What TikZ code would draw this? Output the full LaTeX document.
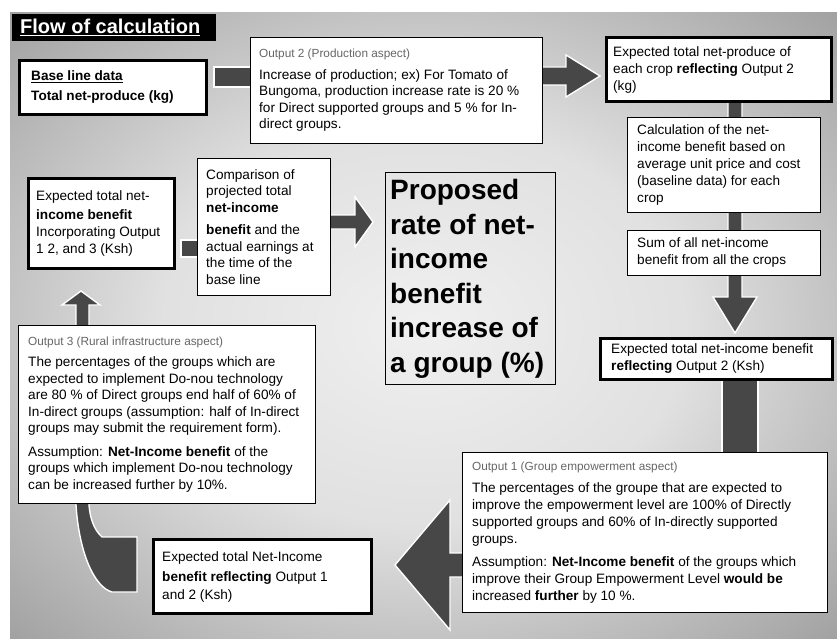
\documentclass[tikz,border=0pt]{standalone}
\usepackage{fontspec}
\setmainfont{Liberation Sans}
\usetikzlibrary{calc}
\pgfdeclarelayer{panel}
\pgfdeclarelayer{arrows}
\pgfsetlayers{panel,arrows,main}
% light centre, darker rim
\pgfdeclareradialshading{panelshade}{\pgfpoint{0bp}{0bp}}{%
  color(0bp)=(black!6); color(16bp)=(black!12); color(38bp)=(black!40); color(72bp)=(black!64)}

\tikzset{
  box/.style={draw=black, fill=white, line width=0.8pt, anchor=north west, inner sep=0pt},
  heavybox/.style={box, line width=3pt},
  boxtext/.style={anchor=west, align=left, inner sep=0pt, font=\fontsize{13.6}{16.5}\selectfont},
  blockarrow/.style={fill=black!72, draw=white, line width=1.4pt, line join=miter},
}
\newcommand\aspectline[1]{{\fontsize{11.8}{14}\selectfont\color{black!60}#1}}

\begin{document}
\begin{tikzpicture}[x=1pt,y=-1pt]
\useasboundingbox (0,0) rectangle (837,639);

\begin{pgfonlayer}{panel}
  \fill[white] (0,0) rectangle (837,639);
  \shade[shading=panelshade] (10,13) rectangle (837,639);
\end{pgfonlayer}

% ---- title
\node[fill=black, anchor=north west, minimum width=204pt, minimum height=27pt, inner sep=0pt] (title) at (12,14) {};
\node[anchor=west, inner sep=0pt, text=white, font=\fontsize{20}{22}\selectfont\bfseries]
  (titletext) at ($(title.west)+(8,0)$) {\underline{Flow of calculation}};

% ---- boxes with their texts
\node[heavybox, minimum width=187pt, minimum height=54pt] (base) at (18,59) {};
\node[boxtext, font=\fontsize{13.6}{20}\selectfont\bfseries] (basetext) at ($(base.west)+(13,0)$)
  {\underline{Base line data}\\Total net-produce (kg)};

\node[box, minimum width=292pt, minimum height=106pt] (out2) at (250,37) {};
\node[boxtext] (out2text) at ($(out2.west)+(9,0)$)
  {\aspectline{Output 2 (Production aspect)}\\[5pt]
   Increase of production; ex) For Tomato of\\
   Bungoma, production increase rate is 20 \%\\
   for Direct supported groups and 5 \% for In-\\
   direct groups.};

\node[heavybox, minimum width=225pt, minimum height=64pt] (prod) at (605,36) {};
\node[boxtext, font=\fontsize{13.6}{17}\selectfont] (prodtext) at ($(prod.west)+(8,0)$)
  {Expected total net-produce of\\ each crop \textbf{reflecting} Output 2\\ (kg)};

\node[box, minimum width=193pt, minimum height=95pt] (netcalc) at (627,117) {};
\node[boxtext, font=\fontsize{13.6}{17}\selectfont] (netcalctext) at ($(netcalc.west)+(10,0)$)
  {Calculation of the net-\\income benefit based on\\average unit price and cost\\(baseline data) for each\\crop};

\node[box, minimum width=193pt, minimum height=45pt] (sum) at (627,230) {};
\node[boxtext, font=\fontsize{13.6}{17}\selectfont] (sumtext) at ($(sum.west)+(10,0)$)
  {Sum of all net-income\\benefit from all the crops};

\node[heavybox, minimum width=232pt, minimum height=41pt] (exp2) at (599,337) {};
\node[boxtext, font=\fontsize{13.6}{17}\selectfont] (exp2text) at ($(exp2.west)+(12,0)$)
  {Expected total net-income benefit\\\textbf{reflecting} Output 2 (Ksh)};

\node[box, minimum width=365pt, minimum height=160pt] (out1) at (462,452) {};
\node[boxtext, font=\fontsize{13.6}{17}\selectfont] (out1text) at ($(out1.west)+(10,0)$)
  {\aspectline{Output 1 (Group empowerment aspect)}\\[5pt]
   The percentages of the groupe that are expected to\\
   improve the empowerment level are 100\% of Directly\\
   supported groups and 60\% of In-directly supported\\
   groups.\\[6pt]
   Assumption: \textbf{Net-Income benefit} of the groups which\\
   improve their Group Empowerment Level \textbf{would be}\\
   increased \textbf{further} by 10 \%.};

\node[heavybox, minimum width=218pt, minimum height=74pt] (exp12) at (152,538) {};
\node[boxtext, font=\fontsize{13.6}{18}\selectfont] (exp12text) at ($(exp12.west)+(10,0)$)
  {Expected total Net-Income\\[2pt]\textbf{benefit reflecting} Output 1\\and 2 (Ksh)};

\node[box, minimum width=297pt, minimum height=178pt] (out3) at (18,325) {};
\node[boxtext] (out3text) at ($(out3.west)+(10,0)$)
  {\aspectline{Output 3 (Rural infrastructure aspect)}\\[5pt]
   The percentages of the groups which are\\
   expected to implement Do-nou technology\\
   are 80 \% of Direct groups end half of 60\% of\\
   In-direct groups (assumption: half of In-direct\\
   groups may submit the requirement form).\\[7pt]
   Assumption: \textbf{Net-Income benefit} of the\\
   groups which implement Do-nou technology\\
   can be increased further by 10\%.};

\node[heavybox, minimum width=146pt, minimum height=90pt] (incorp) at (27,177) {};
\node[boxtext, font=\fontsize{13.6}{17}\selectfont] (incorptext) at ($(incorp.west)+(9,0)$)
  {Expected total net-\\[2pt]\textbf{income benefit}\\Incorporating Output\\1 2, and 3 (Ksh)};

\node[box, minimum width=133pt, minimum height=137pt] (comp) at (197,158) {};
\node[boxtext] (comptext) at ($(comp.west)+(9,0)$)
  {Comparison of\\projected total\\\textbf{net-income}\\[6pt]\textbf{benefit} and the\\actual earnings at\\the time of the\\base line};

\node[box, fill=none, line width=1.2pt, minimum width=170pt, minimum height=212pt] (prop) at (385,172) {};
\node[boxtext, font=\fontsize{28}{34.5}\selectfont\bfseries] (proptext) at ($(prop.west)+(5,0)$)
  {Proposed\\rate of net-\\income\\benefit\\increase of\\a group (\%)};

% ---- block arrows, behind the boxes
\begin{pgfonlayer}{arrows}
  % base line data -> output 2
  \draw[blockarrow] (base.east |- 0,67) ++(6,0) rectangle (out2.center |- 0,87);

  % output 2 -> expected net-produce
  \path (prod.west |- 0,76) ++(-5,0) coordinate (tip2);
  \draw[blockarrow] (tip2) -- ++(-34,-21) -- ++(0,12) -- (out2.center |- 0,67)
    -- (out2.center |- 0,85) -- ($(tip2)+(-34,9)$) -- ++(0,12) -- cycle;

  % expected net-produce -> calculation -> sum -> net-income (output 2)
  \path (exp2.north -| 735,0) ++(0,-4) coordinate (tip3);
  \draw[blockarrow] (tip3) -- ++(-22,-36) -- ++(15,0) -- (prod.center -| 728,0)
    -- (prod.center -| 742,0) -- ($(tip3)+(7,-36)$) -- ++(15,0) -- cycle;

  % net-income (output 2) -> output 1
  \draw[blockarrow] (exp2.center -| 722,0) rectangle (out1.center -| 758,0);

  % output 1 -> net-income (outputs 1 and 2)
  \path (exp12.east |- 0,565) ++(22,0) coordinate (tip5);
  \draw[blockarrow] (tip5) -- ++(55,-65) -- ++(0,53) -- (out1.center |- 0,553)
    -- (out1.center |- 0,577) -- ($(tip5)+(55,12)$) -- ++(0,53) -- cycle;

  % net-income (outputs 1 and 2) -> incorporating outputs 1, 2 and 3
  \path (exp12.west |- 0,537) ++(-15,0) coordinate (c0);
  \path (incorp.south -| 81,0) ++(0,21) coordinate (tip6);
  \draw[blockarrow] (c0) -- (102,537) .. controls (94,530) and (90,518) .. (89,505)
    -- (89,305) -- (100,305) -- (tip6) -- (62,305) -- (76,305) -- (76,505)
    .. controls (79,552) and (94,587) .. (112,592) -- ($(c0)+(0,55)$) -- cycle;

  % incorporating -> comparison
  \draw[blockarrow] (incorp.east |- 0,240) ++(5,0) rectangle (comp.center |- 0,257);

  % comparison -> proposed rate
  \path (prop.west |- 0,222) ++(-12,0) coordinate (tip9);
  \draw[blockarrow] (tip9) -- ++(-18,-25) -- ++(0,18) -- (comp.center |- 0,215)
    -- (comp.center |- 0,229) -- ($(tip9)+(-18,7)$) -- ++(0,18) -- cycle;
\end{pgfonlayer}
\end{tikzpicture}
\end{document}
